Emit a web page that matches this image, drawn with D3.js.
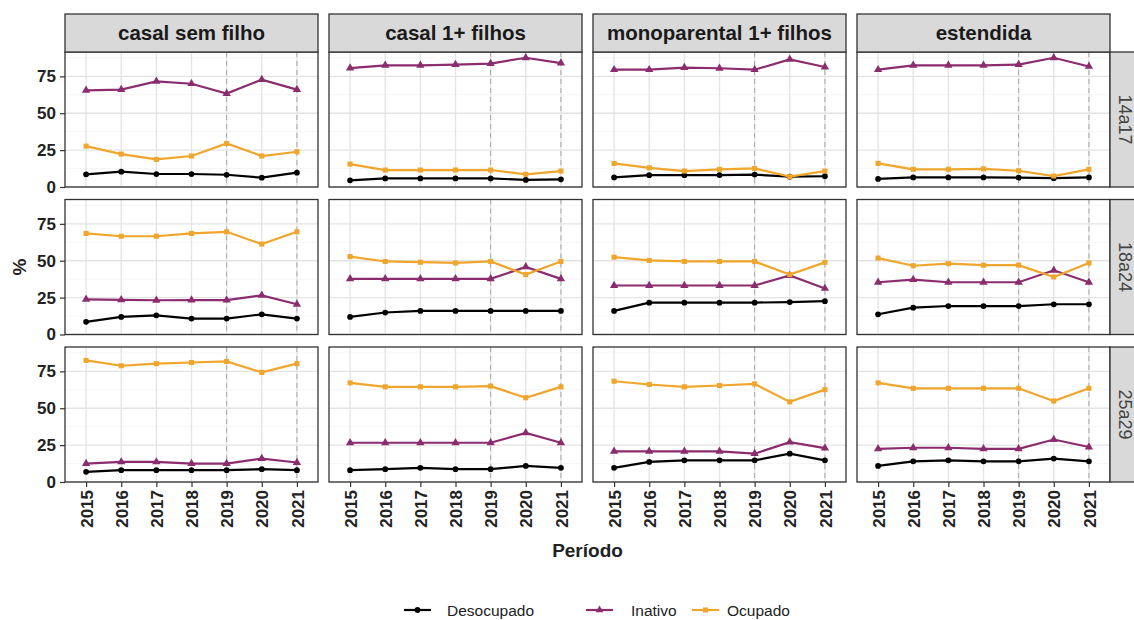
<!DOCTYPE html>
<html>
<head>
<meta charset="utf-8">
<script src="https://cdn.jsdelivr.net/npm/d3@7"></script>
<style>
  body { margin: 0; background: #fff; }
  svg { font-family: "Liberation Sans", Arial, sans-serif; }
</style>
</head>
<body>
<div id="vis"></div>
<script>
// facet categories
var anos = [2015, 2016, 2017, 2018, 2019, 2020, 2021];
var tipos = ['casal sem filho', 'casal 1+ filhos', 'monoparental 1+ filhos', 'estendida'];
var faixas = ['14a17', '18a24', '25a29'];
var situacoes = ['Desocupado', 'Inativo', 'Ocupado'];
var yTicks = [0, 25, 50, 75];
var marcos = [2019, 2021];

// values (%) per faixa etaria, one row per tipo de familia
var desocupado14a17 = [
  [8.6, 10.4, 8.8, 8.8, 8.3, 6.3, 9.7],
  [4.5, 5.8, 5.8, 5.8, 5.8, 4.8, 5.2],
  [6.5, 8.0, 8.0, 8.1, 8.4, 7.0, 7.3],
  [5.5, 6.5, 6.5, 6.5, 6.3, 6.0, 6.5]
];
var inativo14a17 = [
  [65.5, 66, 71.6, 70, 63.3, 72.8, 66],
  [80.6, 82.4, 82.4, 83, 83.6, 87.6, 84],
  [79.5, 79.5, 80.9, 80.5, 79.5, 86.5, 81.3],
  [79.5, 82.4, 82.4, 82.4, 83, 87.6, 81.7]
];
var ocupado14a17 = [
  [27.7, 22.3, 18.7, 21, 29.5, 21, 23.9],
  [15.5, 11.5, 11.5, 11.5, 11.5, 8.6, 10.8],
  [16, 13, 10.8, 12, 12.6, 7, 10.8],
  [16, 12, 12, 12.3, 11, 7.4, 12]
];
var desocupado18a24 = [
  [8.6, 11.9, 13, 10.8, 10.8, 13.7, 10.8],
  [11.9, 14.9, 16, 16, 16, 16, 16],
  [16, 21.6, 21.6, 21.6, 21.6, 22, 22.6],
  [13.7, 18.2, 19.3, 19.3, 19.3, 20.5, 20.5]
];
var inativo18a24 = [
  [23.8, 23.5, 23.2, 23.3, 23.3, 26.5, 20.5],
  [37.7, 37.7, 37.7, 37.7, 37.7, 45.8, 37.7],
  [33.2, 33.2, 33.2, 33.2, 33.2, 40, 31.2],
  [35.4, 37.2, 35.4, 35.4, 35.4, 43.5, 35.4]
];
var ocupado18a24 = [
  [68.5, 66.6, 66.6, 68.5, 69.6, 61.3, 69.6],
  [52.8, 49.5, 49, 48.5, 49.5, 40.6, 49.5],
  [52.4, 50.2, 49.5, 49.5, 49.5, 40.6, 48.9],
  [51.8, 46.6, 48, 47, 47, 39, 48.5]
];
var desocupado25a29 = [
  [6.9, 8, 8, 8, 8, 8.7, 8],
  [8, 8.7, 9.6, 8.7, 8.7, 10.9, 9.6],
  [9.6, 13.6, 14.7, 14.7, 14.7, 19.2, 14.7],
  [10.9, 14, 14.7, 14, 14, 15.9, 14]
];
var inativo25a29 = [
  [12.5, 13.6, 13.6, 12.5, 12.5, 15.9, 13.2],
  [26.6, 26.6, 26.6, 26.6, 26.6, 33.3, 26.6],
  [20.8, 20.8, 20.8, 20.8, 19.2, 27, 23],
  [22.5, 23.2, 23.2, 22.5, 22.5, 28.8, 23.7]
];
var ocupado25a29 = [
  [82.4, 78.8, 80.2, 81, 81.7, 74.3, 80.2],
  [67.2, 64.5, 64.5, 64.5, 65, 57.1, 64.5],
  [68.3, 66.1, 64.5, 65.4, 66.5, 54.3, 62.6],
  [67.2, 63.5, 63.5, 63.5, 63.5, 54.9, 63.5]
];

function facetChart() {
  var valores = {
    '14a17': [desocupado14a17, inativo14a17, ocupado14a17],
    '18a24': [desocupado18a24, inativo18a24, ocupado18a24],
    '25a29': [desocupado25a29, inativo25a29, ocupado25a29]
  };

  var width = 1134, height = 620;
  var marginLeft = 65, marginTop = 52;
  var panelW = 253, panelH = 135, gapX = 11, gapY = 12.5;
  var stripH = 38, stripW = 28;

  var cor = d3.scaleOrdinal().domain(situacoes).range(['#000000', '#8b2c6e', '#f0a52c']);
  var forma = d3.scaleOrdinal().domain(situacoes)
    .range([d3.symbolCircle, d3.symbolTriangle, d3.symbolSquare]);

  // discrete x, like ggplot's 0.6 expansion
  var x = d3.scalePoint().domain(anos).range([0, panelW]).padding(0.6);
  var y = d3.scaleLinear().domain([0, 91.5]).range([panelH, 0]);

  var svg = d3.select('#vis').append('svg')
    .attr('width', width)
    .attr('height', height);

  var linha = d3.line()
    .x(function (d, i) { return x(anos[i]); })
    .y(function (d) { return y(d); });

  faixas.forEach(function (faixa, r) {
    var py = marginTop + r * (panelH + gapY);

    tipos.forEach(function (tipo, c) {
      var px = marginLeft + c * (panelW + gapX);
      var g = svg.append('g').attr('transform', 'translate(' + px + ',' + py + ')');

      g.append('rect').attr('width', panelW).attr('height', panelH).attr('fill', '#fff');

      // minor grid
      g.selectAll('.minor').data(d3.range(12.5, 91.5, 25)).enter().append('line')
        .attr('x1', 0).attr('x2', panelW)
        .attr('y1', y).attr('y2', y)
        .attr('stroke', '#f2f2f2').attr('stroke-width', 0.8);

      // major grid
      g.selectAll('.hmajor').data(yTicks).enter().append('line')
        .attr('x1', 0).attr('x2', panelW)
        .attr('y1', y).attr('y2', y)
        .attr('stroke', '#e4e4e4').attr('stroke-width', 1.3);
      g.selectAll('.vmajor').data(anos).enter().append('line')
        .attr('x1', x).attr('x2', x)
        .attr('y1', 0).attr('y2', panelH)
        .attr('stroke', '#e4e4e4').attr('stroke-width', 1.3);

      // dashed reference years
      g.selectAll('.marco').data(marcos).enter().append('line')
        .attr('x1', x).attr('x2', x)
        .attr('y1', 0).attr('y2', panelH)
        .attr('stroke', '#a6a6a6').attr('stroke-width', 1)
        .attr('stroke-dasharray', '5,4');

      situacoes.forEach(function (s, k) {
        var vals = valores[faixa][k][c];
        g.append('path')
          .attr('d', linha(vals))
          .attr('fill', 'none')
          .attr('stroke', cor(s))
          .attr('stroke-width', 2.2);
        g.selectAll('.pt' + k).data(vals).enter().append('path')
          .attr('transform', function (d, i) { return 'translate(' + x(anos[i]) + ',' + y(d) + ')'; })
          .attr('d', d3.symbol().type(forma(s)).size(k === 1 ? 30 : 26))
          .attr('fill', cor(s));
      });

      g.append('rect').attr('width', panelW).attr('height', panelH)
        .attr('fill', 'none').attr('stroke', '#333').attr('stroke-width', 1.3);

      // top strips
      if (r === 0) {
        svg.append('rect')
          .attr('x', px).attr('y', marginTop - stripH)
          .attr('width', panelW).attr('height', stripH)
          .attr('fill', '#d9d9d9').attr('stroke', '#333').attr('stroke-width', 1.3);
        svg.append('text')
          .attr('x', px + panelW / 2).attr('y', marginTop - stripH / 2)
          .attr('dy', '0.36em')
          .attr('text-anchor', 'middle')
          .attr('font-size', 20.5).attr('font-weight', 'bold')
          .attr('fill', '#1a1a1a')
          .text(tipo);
      }

      // y axis on first column
      if (c === 0) {
        var ya = svg.append('g').attr('transform', 'translate(' + px + ',' + py + ')')
          .call(d3.axisLeft(y).tickValues(yTicks).tickSize(5).tickPadding(4));
        ya.select('.domain').remove();
        ya.selectAll('.tick line').attr('stroke', '#333').attr('stroke-width', 1.2);
        ya.selectAll('.tick text')
          .attr('font-size', 17).attr('font-weight', 'bold')
          .attr('fill', '#222')
          .style('font-family', '"Liberation Sans", Arial, sans-serif');
      }

      // x axis on last row
      if (r === faixas.length - 1) {
        var xa = svg.append('g').attr('transform', 'translate(' + px + ',' + (py + panelH) + ')')
          .call(d3.axisBottom(x).tickSize(5).tickPadding(4));
        xa.select('.domain').remove();
        xa.selectAll('.tick line').attr('stroke', '#333').attr('stroke-width', 1.2);
        xa.selectAll('.tick text')
          .attr('font-size', 17).attr('font-weight', 'bold')
          .attr('fill', '#222')
          .style('font-family', '"Liberation Sans", Arial, sans-serif')
          .attr('text-anchor', 'end')
          .attr('transform', 'rotate(-90)')
          .attr('x', -8).attr('y', 0).attr('dy', '0.36em');
      }
    });

    // right strip
    var sx = marginLeft + 4 * panelW + 3 * gapX;
    svg.append('rect')
      .attr('x', sx).attr('y', py)
      .attr('width', stripW).attr('height', panelH)
      .attr('fill', '#d9d9d9').attr('stroke', '#333').attr('stroke-width', 1.3);
    svg.append('text')
      .attr('transform', 'translate(' + (sx + stripW / 2 + 1) + ',' + (py + panelH / 2) + ') rotate(90)')
      .attr('dy', '0.36em')
      .attr('text-anchor', 'middle')
      .attr('font-size', 18)
      .attr('fill', '#444')
      .text(faixa);
  });

  // axis titles
  svg.append('text')
    .attr('transform', 'translate(19,' + (marginTop + (3 * panelH + 2 * gapY) / 2) + ') rotate(-90)')
    .attr('text-anchor', 'middle')
    .attr('dy', '0.36em')
    .attr('font-size', 19).attr('font-weight', 'bold')
    .attr('fill', '#222')
    .text('%');

  svg.append('text')
    .attr('x', marginLeft + (4 * panelW + 3 * gapX) / 2)
    .attr('y', 557)
    .attr('text-anchor', 'middle')
    .attr('font-size', 19).attr('font-weight', 'bold')
    .attr('fill', '#222')
    .text('Período');

  // legend
  var keyX = [404, 586, 692];
  var textX = [447, 631, 727];
  var leg = svg.selectAll('.leg').data(situacoes).enter().append('g')
    .attr('transform', 'translate(0,610)');
  leg.append('line')
    .attr('x1', function (d, i) { return keyX[i]; })
    .attr('x2', function (d, i) { return keyX[i] + 27; })
    .attr('stroke', function (d) { return cor(d); })
    .attr('stroke-width', 2.2);
  leg.append('path')
    .attr('transform', function (d, i) { return 'translate(' + (keyX[i] + 13.5) + ',0)'; })
    .attr('d', function (d) { return d3.symbol().type(forma(d)).size(26)(); })
    .attr('fill', function (d) { return cor(d); });
  leg.append('text')
    .attr('x', function (d, i) { return textX[i]; })
    .attr('dy', '0.36em')
    .attr('font-size', 15.5)
    .attr('fill', '#222')
    .text(function (d) { return d; });
}

facetChart();
</script>
</body>
</html>
